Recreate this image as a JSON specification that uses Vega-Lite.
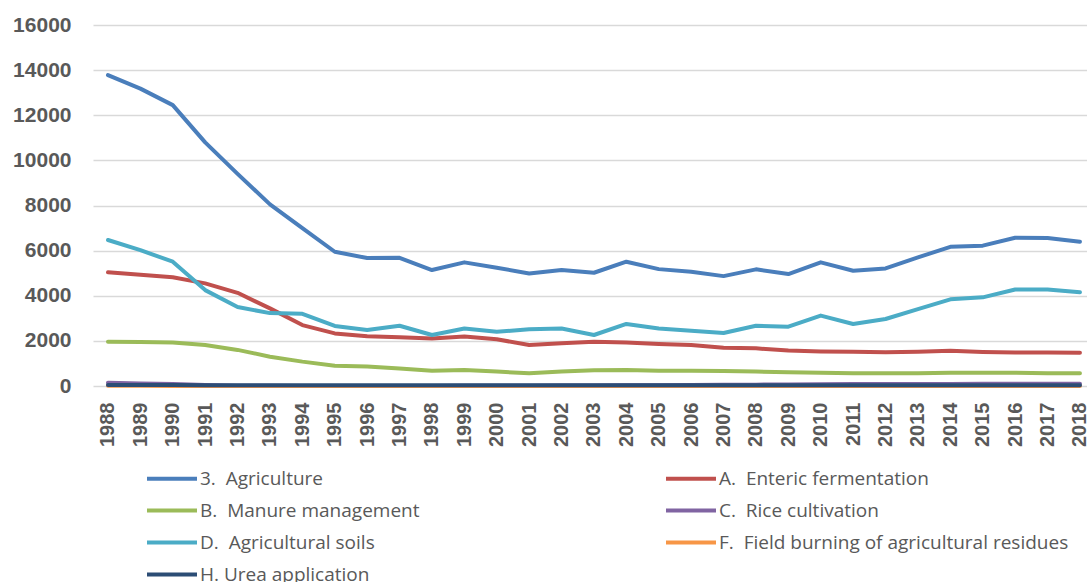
{
  "$schema": "https://vega.github.io/schema/vega-lite/v6.json",
  "autosize": "none",
  "width": 994,
  "height": 361,
  "padding": {"left": 93, "top": 25, "right": 0, "bottom": 196},
  "background": "white",
  "config": {
    "view": {"stroke": null},
    "font": "Liberation Sans"
  },
  "data": {
    "values": [
      {"year": "1988", "series": "3.\u00a0 Agriculture", "value": 13780},
      {"year": "1989", "series": "3.\u00a0 Agriculture", "value": 13180},
      {"year": "1990", "series": "3.\u00a0 Agriculture", "value": 12450},
      {"year": "1991", "series": "3.\u00a0 Agriculture", "value": 10800},
      {"year": "1992", "series": "3.\u00a0 Agriculture", "value": 9400},
      {"year": "1993", "series": "3.\u00a0 Agriculture", "value": 8050},
      {"year": "1994", "series": "3.\u00a0 Agriculture", "value": 7000},
      {"year": "1995", "series": "3.\u00a0 Agriculture", "value": 5950},
      {"year": "1996", "series": "3.\u00a0 Agriculture", "value": 5670},
      {"year": "1997", "series": "3.\u00a0 Agriculture", "value": 5680},
      {"year": "1998", "series": "3.\u00a0 Agriculture", "value": 5140},
      {"year": "1999", "series": "3.\u00a0 Agriculture", "value": 5480},
      {"year": "2000", "series": "3.\u00a0 Agriculture", "value": 5240},
      {"year": "2001", "series": "3.\u00a0 Agriculture", "value": 4990},
      {"year": "2002", "series": "3.\u00a0 Agriculture", "value": 5140},
      {"year": "2003", "series": "3.\u00a0 Agriculture", "value": 5020},
      {"year": "2004", "series": "3.\u00a0 Agriculture", "value": 5510},
      {"year": "2005", "series": "3.\u00a0 Agriculture", "value": 5180},
      {"year": "2006", "series": "3.\u00a0 Agriculture", "value": 5060},
      {"year": "2007", "series": "3.\u00a0 Agriculture", "value": 4870},
      {"year": "2008", "series": "3.\u00a0 Agriculture", "value": 5170},
      {"year": "2009", "series": "3.\u00a0 Agriculture", "value": 4960},
      {"year": "2010", "series": "3.\u00a0 Agriculture", "value": 5480},
      {"year": "2011", "series": "3.\u00a0 Agriculture", "value": 5110},
      {"year": "2012", "series": "3.\u00a0 Agriculture", "value": 5210},
      {"year": "2013", "series": "3.\u00a0 Agriculture", "value": 5700},
      {"year": "2014", "series": "3.\u00a0 Agriculture", "value": 6170},
      {"year": "2015", "series": "3.\u00a0 Agriculture", "value": 6220},
      {"year": "2016", "series": "3.\u00a0 Agriculture", "value": 6570},
      {"year": "2017", "series": "3.\u00a0 Agriculture", "value": 6560},
      {"year": "2018", "series": "3.\u00a0 Agriculture", "value": 6390},

      {"year": "1988", "series": "A.\u00a0 Enteric fermentation", "value": 5040},
      {"year": "1989", "series": "A.\u00a0 Enteric fermentation", "value": 4930},
      {"year": "1990", "series": "A.\u00a0 Enteric fermentation", "value": 4820},
      {"year": "1991", "series": "A.\u00a0 Enteric fermentation", "value": 4550},
      {"year": "1992", "series": "A.\u00a0 Enteric fermentation", "value": 4130},
      {"year": "1993", "series": "A.\u00a0 Enteric fermentation", "value": 3440},
      {"year": "1994", "series": "A.\u00a0 Enteric fermentation", "value": 2700},
      {"year": "1995", "series": "A.\u00a0 Enteric fermentation", "value": 2330},
      {"year": "1996", "series": "A.\u00a0 Enteric fermentation", "value": 2200},
      {"year": "1997", "series": "A.\u00a0 Enteric fermentation", "value": 2160},
      {"year": "1998", "series": "A.\u00a0 Enteric fermentation", "value": 2110},
      {"year": "1999", "series": "A.\u00a0 Enteric fermentation", "value": 2190},
      {"year": "2000", "series": "A.\u00a0 Enteric fermentation", "value": 2070},
      {"year": "2001", "series": "A.\u00a0 Enteric fermentation", "value": 1820},
      {"year": "2002", "series": "A.\u00a0 Enteric fermentation", "value": 1890},
      {"year": "2003", "series": "A.\u00a0 Enteric fermentation", "value": 1960},
      {"year": "2004", "series": "A.\u00a0 Enteric fermentation", "value": 1930},
      {"year": "2005", "series": "A.\u00a0 Enteric fermentation", "value": 1860},
      {"year": "2006", "series": "A.\u00a0 Enteric fermentation", "value": 1820},
      {"year": "2007", "series": "A.\u00a0 Enteric fermentation", "value": 1700},
      {"year": "2008", "series": "A.\u00a0 Enteric fermentation", "value": 1670},
      {"year": "2009", "series": "A.\u00a0 Enteric fermentation", "value": 1570},
      {"year": "2010", "series": "A.\u00a0 Enteric fermentation", "value": 1530},
      {"year": "2011", "series": "A.\u00a0 Enteric fermentation", "value": 1520},
      {"year": "2012", "series": "A.\u00a0 Enteric fermentation", "value": 1500},
      {"year": "2013", "series": "A.\u00a0 Enteric fermentation", "value": 1520},
      {"year": "2014", "series": "A.\u00a0 Enteric fermentation", "value": 1560},
      {"year": "2015", "series": "A.\u00a0 Enteric fermentation", "value": 1510},
      {"year": "2016", "series": "A.\u00a0 Enteric fermentation", "value": 1490},
      {"year": "2017", "series": "A.\u00a0 Enteric fermentation", "value": 1480},
      {"year": "2018", "series": "A.\u00a0 Enteric fermentation", "value": 1470},

      {"year": "1988", "series": "B.\u00a0 Manure management", "value": 1960},
      {"year": "1989", "series": "B.\u00a0 Manure management", "value": 1950},
      {"year": "1990", "series": "B.\u00a0 Manure management", "value": 1930},
      {"year": "1991", "series": "B.\u00a0 Manure management", "value": 1820},
      {"year": "1992", "series": "B.\u00a0 Manure management", "value": 1600},
      {"year": "1993", "series": "B.\u00a0 Manure management", "value": 1300},
      {"year": "1994", "series": "B.\u00a0 Manure management", "value": 1080},
      {"year": "1995", "series": "B.\u00a0 Manure management", "value": 900},
      {"year": "1996", "series": "B.\u00a0 Manure management", "value": 860},
      {"year": "1997", "series": "B.\u00a0 Manure management", "value": 780},
      {"year": "1998", "series": "B.\u00a0 Manure management", "value": 680},
      {"year": "1999", "series": "B.\u00a0 Manure management", "value": 710},
      {"year": "2000", "series": "B.\u00a0 Manure management", "value": 640},
      {"year": "2001", "series": "B.\u00a0 Manure management", "value": 560},
      {"year": "2002", "series": "B.\u00a0 Manure management", "value": 640},
      {"year": "2003", "series": "B.\u00a0 Manure management", "value": 700},
      {"year": "2004", "series": "B.\u00a0 Manure management", "value": 710},
      {"year": "2005", "series": "B.\u00a0 Manure management", "value": 680},
      {"year": "2006", "series": "B.\u00a0 Manure management", "value": 680},
      {"year": "2007", "series": "B.\u00a0 Manure management", "value": 660},
      {"year": "2008", "series": "B.\u00a0 Manure management", "value": 640},
      {"year": "2009", "series": "B.\u00a0 Manure management", "value": 610},
      {"year": "2010", "series": "B.\u00a0 Manure management", "value": 590},
      {"year": "2011", "series": "B.\u00a0 Manure management", "value": 570},
      {"year": "2012", "series": "B.\u00a0 Manure management", "value": 560},
      {"year": "2013", "series": "B.\u00a0 Manure management", "value": 570},
      {"year": "2014", "series": "B.\u00a0 Manure management", "value": 590},
      {"year": "2015", "series": "B.\u00a0 Manure management", "value": 590},
      {"year": "2016", "series": "B.\u00a0 Manure management", "value": 590},
      {"year": "2017", "series": "B.\u00a0 Manure management", "value": 570},
      {"year": "2018", "series": "B.\u00a0 Manure management", "value": 570},

      {"year": "1988", "series": "C.\u00a0 Rice cultivation", "value": 140},
      {"year": "1989", "series": "C.\u00a0 Rice cultivation", "value": 115},
      {"year": "1990", "series": "C.\u00a0 Rice cultivation", "value": 85},
      {"year": "1991", "series": "C.\u00a0 Rice cultivation", "value": 45},
      {"year": "1992", "series": "C.\u00a0 Rice cultivation", "value": 15},
      {"year": "1993", "series": "C.\u00a0 Rice cultivation", "value": 8},
      {"year": "1994", "series": "C.\u00a0 Rice cultivation", "value": 5},
      {"year": "1995", "series": "C.\u00a0 Rice cultivation", "value": 5},
      {"year": "1996", "series": "C.\u00a0 Rice cultivation", "value": 5},
      {"year": "1997", "series": "C.\u00a0 Rice cultivation", "value": 5},
      {"year": "1998", "series": "C.\u00a0 Rice cultivation", "value": 5},
      {"year": "1999", "series": "C.\u00a0 Rice cultivation", "value": 8},
      {"year": "2000", "series": "C.\u00a0 Rice cultivation", "value": 10},
      {"year": "2001", "series": "C.\u00a0 Rice cultivation", "value": 15},
      {"year": "2002", "series": "C.\u00a0 Rice cultivation", "value": 20},
      {"year": "2003", "series": "C.\u00a0 Rice cultivation", "value": 25},
      {"year": "2004", "series": "C.\u00a0 Rice cultivation", "value": 30},
      {"year": "2005", "series": "C.\u00a0 Rice cultivation", "value": 35},
      {"year": "2006", "series": "C.\u00a0 Rice cultivation", "value": 40},
      {"year": "2007", "series": "C.\u00a0 Rice cultivation", "value": 50},
      {"year": "2008", "series": "C.\u00a0 Rice cultivation", "value": 60},
      {"year": "2009", "series": "C.\u00a0 Rice cultivation", "value": 70},
      {"year": "2010", "series": "C.\u00a0 Rice cultivation", "value": 80},
      {"year": "2011", "series": "C.\u00a0 Rice cultivation", "value": 85},
      {"year": "2012", "series": "C.\u00a0 Rice cultivation", "value": 85},
      {"year": "2013", "series": "C.\u00a0 Rice cultivation", "value": 90},
      {"year": "2014", "series": "C.\u00a0 Rice cultivation", "value": 90},
      {"year": "2015", "series": "C.\u00a0 Rice cultivation", "value": 95},
      {"year": "2016", "series": "C.\u00a0 Rice cultivation", "value": 95},
      {"year": "2017", "series": "C.\u00a0 Rice cultivation", "value": 95},
      {"year": "2018", "series": "C.\u00a0 Rice cultivation", "value": 95},

      {"year": "1988", "series": "D.\u00a0 Agricultural soils", "value": 6470},
      {"year": "1989", "series": "D.\u00a0 Agricultural soils", "value": 6020},
      {"year": "1990", "series": "D.\u00a0 Agricultural soils", "value": 5510},
      {"year": "1991", "series": "D.\u00a0 Agricultural soils", "value": 4250},
      {"year": "1992", "series": "D.\u00a0 Agricultural soils", "value": 3500},
      {"year": "1993", "series": "D.\u00a0 Agricultural soils", "value": 3230},
      {"year": "1994", "series": "D.\u00a0 Agricultural soils", "value": 3200},
      {"year": "1995", "series": "D.\u00a0 Agricultural soils", "value": 2660},
      {"year": "1996", "series": "D.\u00a0 Agricultural soils", "value": 2480},
      {"year": "1997", "series": "D.\u00a0 Agricultural soils", "value": 2670},
      {"year": "1998", "series": "D.\u00a0 Agricultural soils", "value": 2260},
      {"year": "1999", "series": "D.\u00a0 Agricultural soils", "value": 2550},
      {"year": "2000", "series": "D.\u00a0 Agricultural soils", "value": 2400},
      {"year": "2001", "series": "D.\u00a0 Agricultural soils", "value": 2510},
      {"year": "2002", "series": "D.\u00a0 Agricultural soils", "value": 2550},
      {"year": "2003", "series": "D.\u00a0 Agricultural soils", "value": 2260},
      {"year": "2004", "series": "D.\u00a0 Agricultural soils", "value": 2750},
      {"year": "2005", "series": "D.\u00a0 Agricultural soils", "value": 2550},
      {"year": "2006", "series": "D.\u00a0 Agricultural soils", "value": 2450},
      {"year": "2007", "series": "D.\u00a0 Agricultural soils", "value": 2350},
      {"year": "2008", "series": "D.\u00a0 Agricultural soils", "value": 2670},
      {"year": "2009", "series": "D.\u00a0 Agricultural soils", "value": 2630},
      {"year": "2010", "series": "D.\u00a0 Agricultural soils", "value": 3120},
      {"year": "2011", "series": "D.\u00a0 Agricultural soils", "value": 2750},
      {"year": "2012", "series": "D.\u00a0 Agricultural soils", "value": 2970},
      {"year": "2013", "series": "D.\u00a0 Agricultural soils", "value": 3410},
      {"year": "2014", "series": "D.\u00a0 Agricultural soils", "value": 3840},
      {"year": "2015", "series": "D.\u00a0 Agricultural soils", "value": 3930},
      {"year": "2016", "series": "D.\u00a0 Agricultural soils", "value": 4280},
      {"year": "2017", "series": "D.\u00a0 Agricultural soils", "value": 4280},
      {"year": "2018", "series": "D.\u00a0 Agricultural soils", "value": 4150},

      {"year": "1988", "series": "F.\u00a0 Field burning of agricultural residues", "value": 6},
      {"year": "1989", "series": "F.\u00a0 Field burning of agricultural residues", "value": 6},
      {"year": "1990", "series": "F.\u00a0 Field burning of agricultural residues", "value": 5},
      {"year": "1991", "series": "F.\u00a0 Field burning of agricultural residues", "value": 5},
      {"year": "1992", "series": "F.\u00a0 Field burning of agricultural residues", "value": 4},
      {"year": "1993", "series": "F.\u00a0 Field burning of agricultural residues", "value": 4},
      {"year": "1994", "series": "F.\u00a0 Field burning of agricultural residues", "value": 4},
      {"year": "1995", "series": "F.\u00a0 Field burning of agricultural residues", "value": 3},
      {"year": "1996", "series": "F.\u00a0 Field burning of agricultural residues", "value": 3},
      {"year": "1997", "series": "F.\u00a0 Field burning of agricultural residues", "value": 3},
      {"year": "1998", "series": "F.\u00a0 Field burning of agricultural residues", "value": 3},
      {"year": "1999", "series": "F.\u00a0 Field burning of agricultural residues", "value": 3},
      {"year": "2000", "series": "F.\u00a0 Field burning of agricultural residues", "value": 3},
      {"year": "2001", "series": "F.\u00a0 Field burning of agricultural residues", "value": 3},
      {"year": "2002", "series": "F.\u00a0 Field burning of agricultural residues", "value": 3},
      {"year": "2003", "series": "F.\u00a0 Field burning of agricultural residues", "value": 3},
      {"year": "2004", "series": "F.\u00a0 Field burning of agricultural residues", "value": 3},
      {"year": "2005", "series": "F.\u00a0 Field burning of agricultural residues", "value": 3},
      {"year": "2006", "series": "F.\u00a0 Field burning of agricultural residues", "value": 3},
      {"year": "2007", "series": "F.\u00a0 Field burning of agricultural residues", "value": 3},
      {"year": "2008", "series": "F.\u00a0 Field burning of agricultural residues", "value": 3},
      {"year": "2009", "series": "F.\u00a0 Field burning of agricultural residues", "value": 3},
      {"year": "2010", "series": "F.\u00a0 Field burning of agricultural residues", "value": 3},
      {"year": "2011", "series": "F.\u00a0 Field burning of agricultural residues", "value": 3},
      {"year": "2012", "series": "F.\u00a0 Field burning of agricultural residues", "value": 3},
      {"year": "2013", "series": "F.\u00a0 Field burning of agricultural residues", "value": 3},
      {"year": "2014", "series": "F.\u00a0 Field burning of agricultural residues", "value": 3},
      {"year": "2015", "series": "F.\u00a0 Field burning of agricultural residues", "value": 3},
      {"year": "2016", "series": "F.\u00a0 Field burning of agricultural residues", "value": 3},
      {"year": "2017", "series": "F.\u00a0 Field burning of agricultural residues", "value": 3},
      {"year": "2018", "series": "F.\u00a0 Field burning of agricultural residues", "value": 3},

      {"year": "1988", "series": "H. Urea application", "value": 40},
      {"year": "1989", "series": "H. Urea application", "value": 40},
      {"year": "1990", "series": "H. Urea application", "value": 40},
      {"year": "1991", "series": "H. Urea application", "value": 35},
      {"year": "1992", "series": "H. Urea application", "value": 30},
      {"year": "1993", "series": "H. Urea application", "value": 30},
      {"year": "1994", "series": "H. Urea application", "value": 30},
      {"year": "1995", "series": "H. Urea application", "value": 30},
      {"year": "1996", "series": "H. Urea application", "value": 30},
      {"year": "1997", "series": "H. Urea application", "value": 30},
      {"year": "1998", "series": "H. Urea application", "value": 30},
      {"year": "1999", "series": "H. Urea application", "value": 30},
      {"year": "2000", "series": "H. Urea application", "value": 30},
      {"year": "2001", "series": "H. Urea application", "value": 30},
      {"year": "2002", "series": "H. Urea application", "value": 30},
      {"year": "2003", "series": "H. Urea application", "value": 30},
      {"year": "2004", "series": "H. Urea application", "value": 30},
      {"year": "2005", "series": "H. Urea application", "value": 30},
      {"year": "2006", "series": "H. Urea application", "value": 30},
      {"year": "2007", "series": "H. Urea application", "value": 30},
      {"year": "2008", "series": "H. Urea application", "value": 30},
      {"year": "2009", "series": "H. Urea application", "value": 30},
      {"year": "2010", "series": "H. Urea application", "value": 30},
      {"year": "2011", "series": "H. Urea application", "value": 30},
      {"year": "2012", "series": "H. Urea application", "value": 30},
      {"year": "2013", "series": "H. Urea application", "value": 30},
      {"year": "2014", "series": "H. Urea application", "value": 30},
      {"year": "2015", "series": "H. Urea application", "value": 30},
      {"year": "2016", "series": "H. Urea application", "value": 30},
      {"year": "2017", "series": "H. Urea application", "value": 30},
      {"year": "2018", "series": "H. Urea application", "value": 30}
    ]
  },
  "mark": {"type": "line", "strokeWidth": 4, "strokeCap": "round", "strokeJoin": "round"},
  "encoding": {
    "x": {
      "field": "year",
      "type": "ordinal",
      "scale": {"type": "point", "padding": 0.34, "align": 0.68},
      "axis": {
        "title": null,
        "labelAngle": -90,
        "labelFont": "Liberation Sans",
        "labelFontWeight": "bold",
        "labelFontSize": 20,
        "labelColor": "#595959",
        "labelPadding": 16,
        "ticks": false,
        "domain": false,
        "grid": false
      }
    },
    "y": {
      "field": "value",
      "type": "quantitative",
      "scale": {"domain": [0, 16000], "nice": false},
      "axis": {
        "title": null,
        "values": [0, 2000, 4000, 6000, 8000, 10000, 12000, 14000, 16000],
        "format": "d",
        "labelFont": "Liberation Sans",
        "labelFontWeight": "bold",
        "labelFontSize": 21,
        "labelColor": "#595959",
        "labelPadding": 22,
        "ticks": false,
        "domain": false,
        "grid": true,
        "gridColor": "#d9d9d9",
        "gridWidth": 1.5
      }
    },
    "color": {
      "field": "series",
      "type": "nominal",
      "scale": {
        "domain": ["3.\u00a0 Agriculture", "A.\u00a0 Enteric fermentation", "B.\u00a0 Manure management", "C.\u00a0 Rice cultivation", "D.\u00a0 Agricultural soils", "F.\u00a0 Field burning of agricultural residues", "H. Urea application"],
        "range": ["#4A7EBB", "#C0504D", "#9BBB59", "#8064A2", "#4BACC6", "#F79646", "#2C4D75"]
      },
      "legend": {
        "title": null,
        "orient": "none",
        "direction": "horizontal",
        "legendX": 77,
        "legendY": 439,
        "columns": 2,
        "padding": 0,
        "symbolType": "M-3,0H1",
        "symbolSize": 625,
        "symbolStrokeWidth": 4,
        "labelOffset": 1,
        "labelFont": "Open Sans",
        "labelFontSize": 19,
        "labelColor": "#595959",
        "rowPadding": 7,
        "columnPadding": 238,
        "labelLimit": 600
      }
    }
  }
}
